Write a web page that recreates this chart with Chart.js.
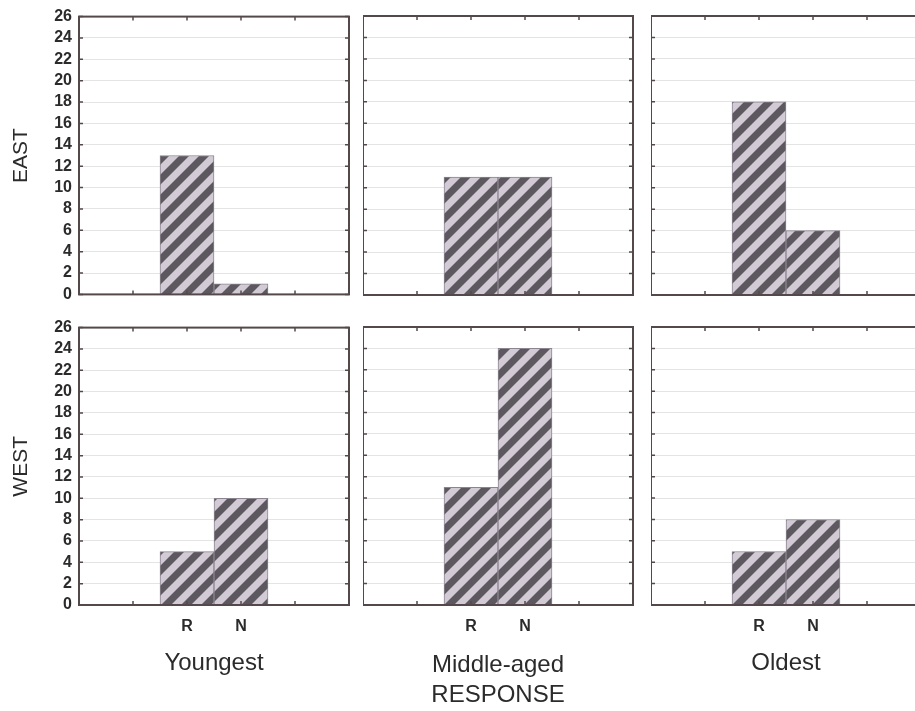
<!DOCTYPE html>
<html>
<head>
<meta charset="utf-8">
<title>Responses by age group and region</title>
<script src="https://cdn.jsdelivr.net/npm/chart.js@4.4.1/dist/chart.umd.min.js"></script>
<style>
  html, body { margin: 0; padding: 0; background: #fff; }
  #page { position: relative; width: 915px; height: 711px; overflow: hidden; }
  .panel { position: absolute; }
  .panel canvas { display: block; }
</style>
</head>
<body>
<div id="page"></div>
<script>
// ---- data ----
const responses = ['R', 'N'];
const ageGroups = ['Youngest', 'Middle-aged', 'Oldest'];
const regions = ['EAST', 'WEST'];
const axisName = 'RESPONSE';

const eastR = [13, 11, 18];
const eastN = [1, 11, 6];
const westR = [5, 11, 5];
const westN = [10, 24, 8];

const yMax = 26;
const yStep = 2;

// ---- layout ----
const panelLeft = [79, 363, 651];
const panelWidth = 270;
const rowTop = [0, 311];
const pageH = 711;
const textColor = '#2b2b2b';
const frameColor = '#54494a';
const fontFamily = '"Liberation Sans", Arial, Helvetica, sans-serif';

// two empty slots either side of the R / N pair
const slots = ['', '', ...responses, '', ''];

function makeHatch() {
    const p = 20;
    const tile = document.createElement('canvas');
    tile.width = tile.height = p;
    const g = tile.getContext('2d');
    g.fillStyle = '#d2cbd5';
    g.fillRect(0, 0, p, p);
    g.strokeStyle = '#5d5860';
    g.lineWidth = (p / 2) / Math.SQRT2;
    for (const k of [0, 1, 2]) {
        g.beginPath();
        g.moveTo(k * p + p, -p);
        g.lineTo(k * p - 2 * p, 2 * p);
        g.stroke();
    }
    return g.createPattern(tile, 'repeat');
}
const hatch = makeHatch();

// box round the plot area plus the small inward tick marks
const panelFrame = {
    id: 'panelFrame',
    afterDatasetsDraw(chart) {
        const { ctx, chartArea: { left, top, right, bottom }, scales: { x, y } } = chart;
        const t = 4;
        ctx.save();
        ctx.strokeStyle = frameColor;
        ctx.lineWidth = 1.5;
        ctx.beginPath();
        y.ticks.forEach((tk, i) => {
            const py = y.getPixelForTick(i);
            ctx.moveTo(left, py); ctx.lineTo(left + t, py);
            ctx.moveTo(right, py); ctx.lineTo(right - t, py);
        });
        x.ticks.forEach((tk, i) => {
            const px = x.getPixelForTick(i);
            ctx.moveTo(px, top); ctx.lineTo(px, top + t);
            ctx.moveTo(px, bottom); ctx.lineTo(px, bottom - t);
        });
        ctx.stroke();
        ctx.lineWidth = 2;
        ctx.strokeRect(left, top, right - left, bottom - top);
        ctx.restore();
    }
};

function buildPanel(row, col) {
    const isLeft = col === 0;
    const isBottom = row === 1;
    const rVals = isBottom ? westR : eastR;
    const nVals = isBottom ? westN : eastN;
    const counts = [rVals[col], nVals[col]];
    const data = slots.map(s => {
        const k = responses.indexOf(s);
        return k < 0 ? null : counts[k];
    });

    const left = isLeft ? 0 : panelLeft[col];
    const top = rowTop[row];
    const width = panelLeft[col] + panelWidth + 1 - left;
    const height = isBottom ? pageH - top : 311;

    const div = document.createElement('div');
    div.className = 'panel';
    div.style.left = left + 'px';
    div.style.top = top + 'px';
    const canvas = document.createElement('canvas');
    canvas.width = width;
    canvas.height = height;
    div.appendChild(canvas);
    document.getElementById('page').appendChild(div);

    const xScale = {
        display: isBottom,
        offset: false,
        grid: { display: false, drawTicks: false },
        border: { display: false },
        ticks: {
            autoSkip: false,
            maxRotation: 0,
            padding: 12,
            color: textColor,
            font: { family: fontFamily, size: 16, weight: 'bold' }
        },
        title: {
            display: isBottom,
            text: col === 1 ? [ageGroups[col], axisName] : ageGroups[col],
            color: textColor,
            font: { family: fontFamily, size: 24, lineHeight: 1.25 },
            padding: { top: 0, bottom: col === 1 ? 1 : 33 }
        }
    };
    if (isBottom) {
        xScale.afterFit = s => {
            s.height = pageH - 605;
            // tick padding would otherwise squeeze the plot sideways
            s.paddingLeft = 0;
            s.paddingRight = 0;
        };
    }

    new Chart(canvas, {
        type: 'bar',
        data: {
            labels: slots,
            datasets: [{
                data: data,
                backgroundColor: hatch,
                borderColor: '#8c8490',
                borderWidth: 1,
                barPercentage: 1,
                categoryPercentage: 1
            }]
        },
        options: {
            responsive: false,
            animation: false,
            layout: { padding: { left: 0, right: 1, top: 16, bottom: isBottom ? 0 : 16 } },
            plugins: { legend: { display: false }, tooltip: { enabled: false } },
            scales: {
                x: xScale,
                y: {
                    min: 0,
                    max: yMax,
                    ticks: {
                        stepSize: yStep,
                        autoSkip: false,
                        display: isLeft,
                        padding: 7,
                        color: textColor,
                        font: { family: fontFamily, size: 16, weight: 'bold' }
                    },
                    grid: { color: '#e4e4e4', lineWidth: 1, drawTicks: false },
                    border: { display: false },
                    title: {
                        display: isLeft,
                        text: regions[row],
                        color: textColor,
                        font: { family: fontFamily, size: 21 },
                        padding: { top: 9, bottom: 0 }
                    },
                    afterFit: s => { s.width = isLeft ? panelLeft[0] : 0; }
                }
            }
        },
        plugins: [panelFrame]
    });
}

for (let row = 0; row < regions.length; row++) {
    for (let col = 0; col < ageGroups.length; col++) {
        buildPanel(row, col);
    }
}
</script>
</body>
</html>
